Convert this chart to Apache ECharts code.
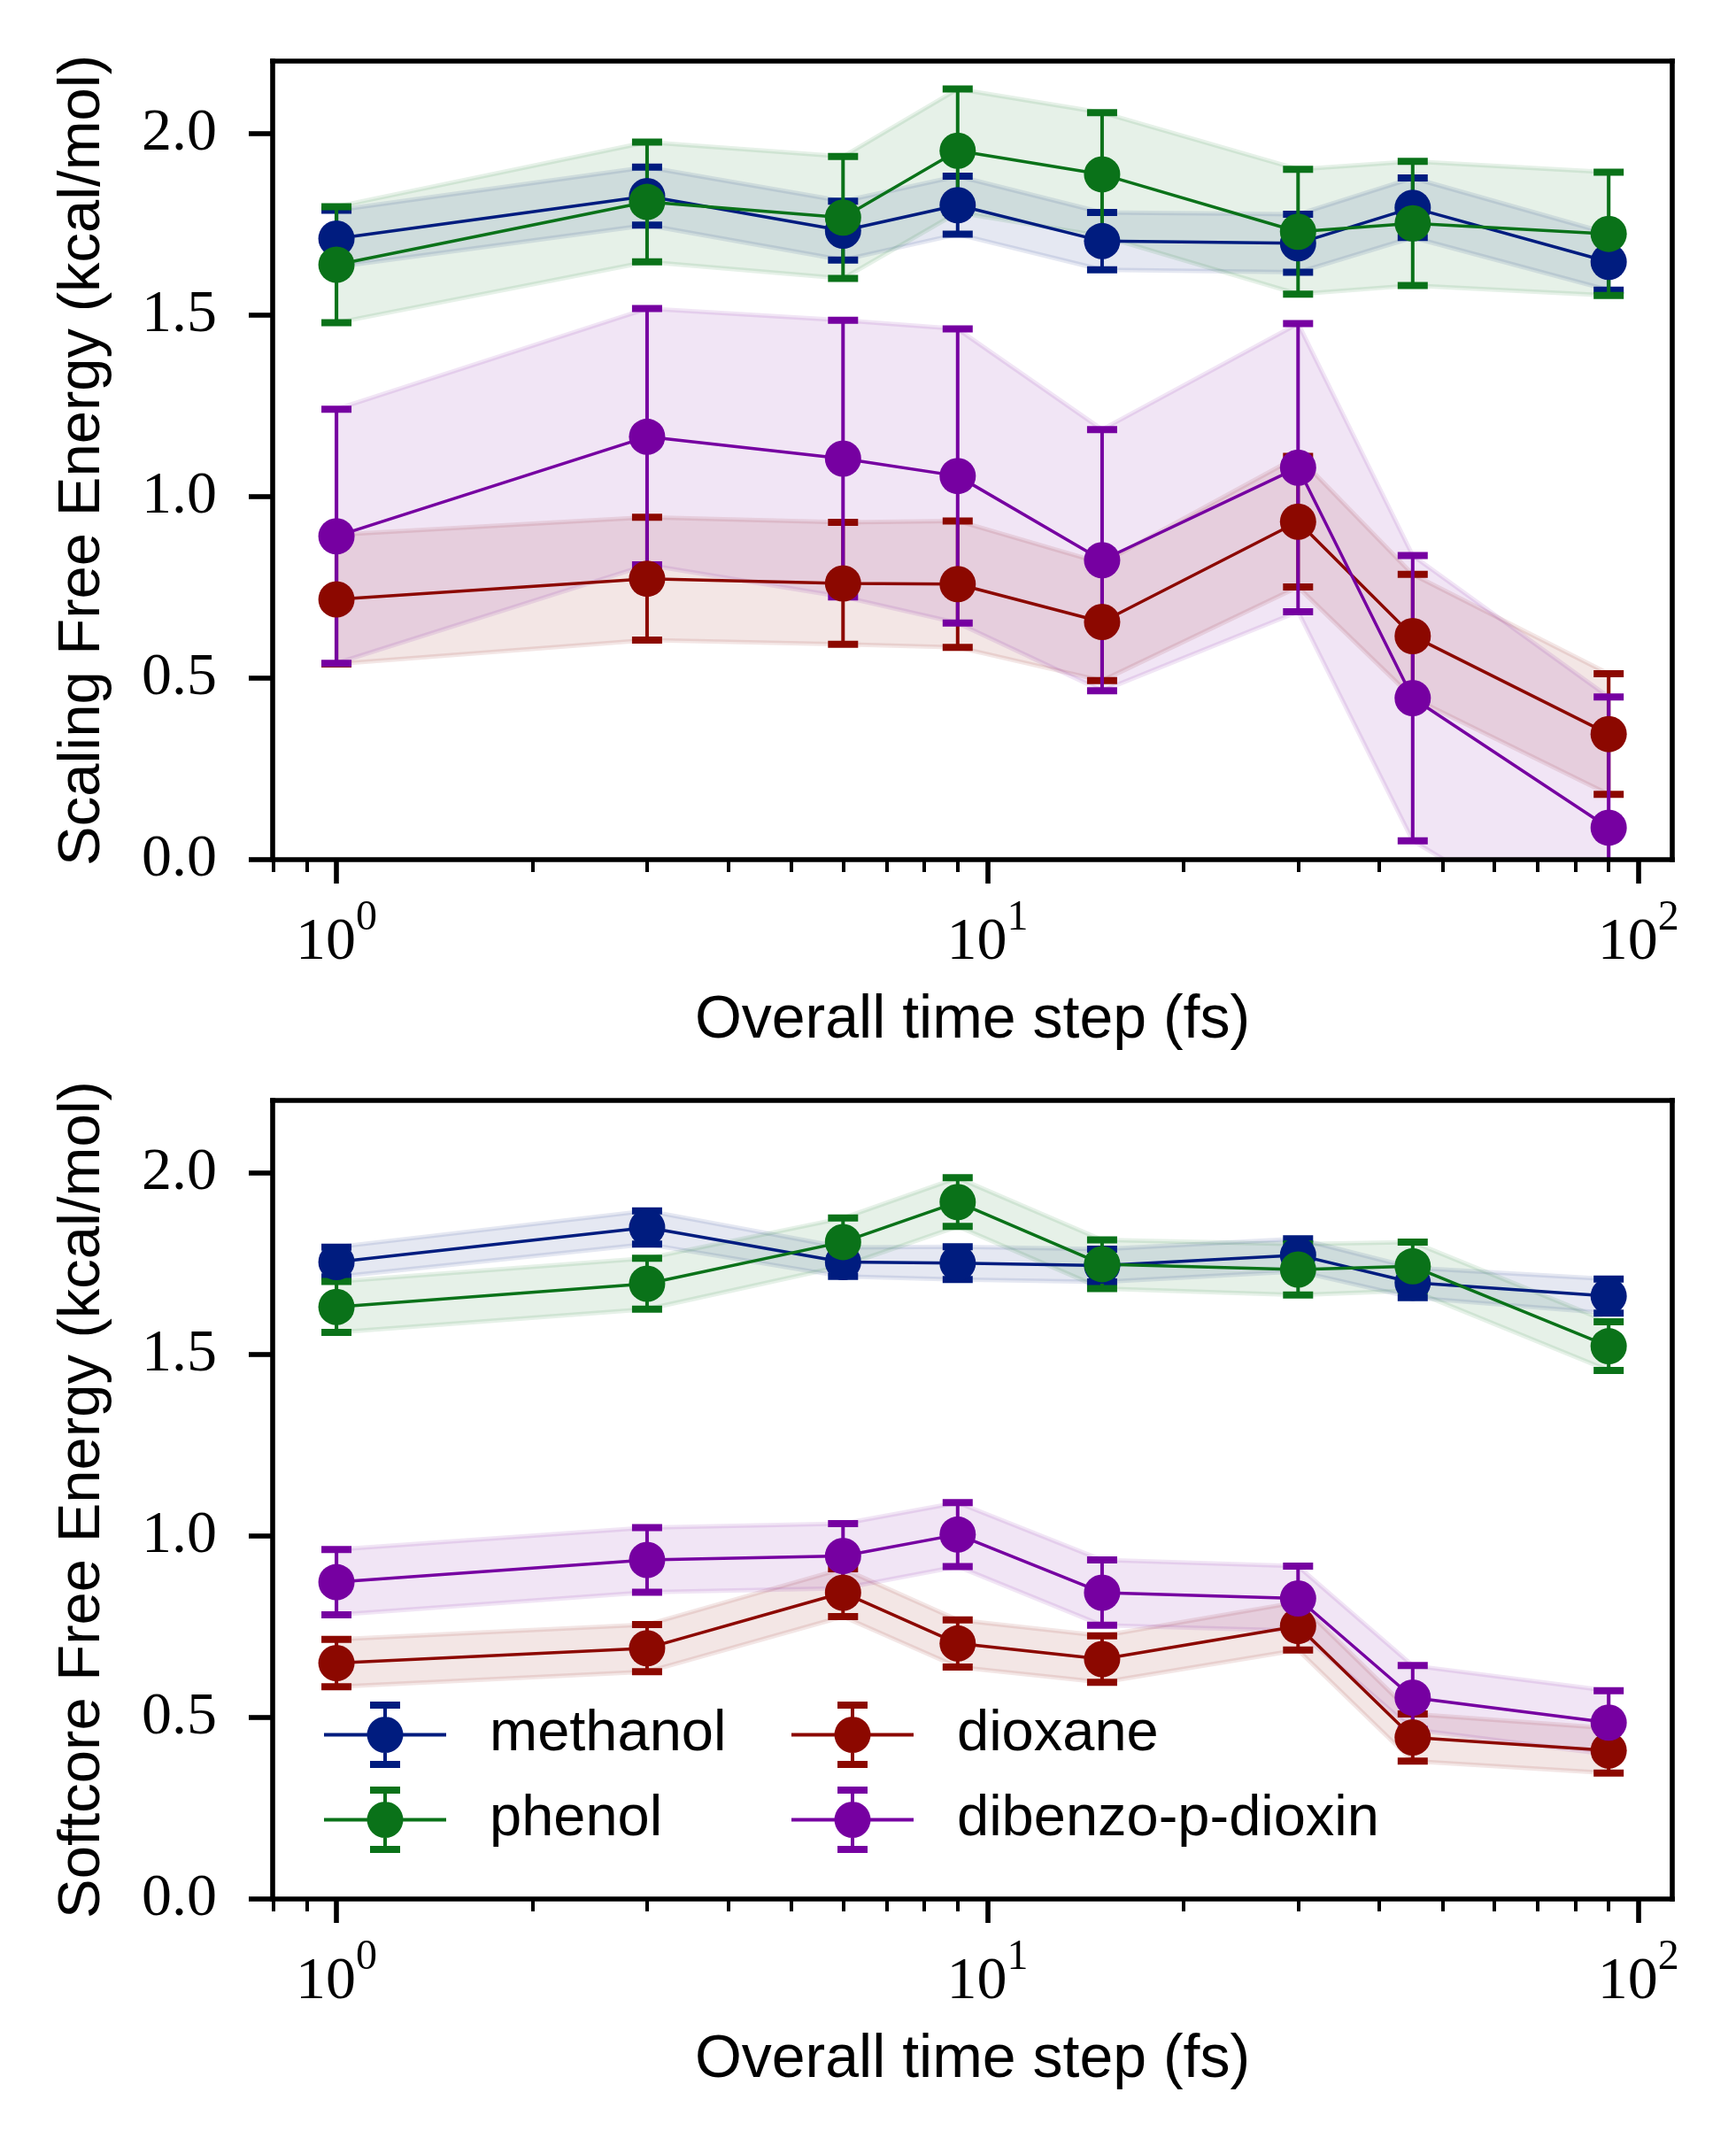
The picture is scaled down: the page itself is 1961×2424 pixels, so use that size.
<!DOCTYPE html>
<html>
<head>
<meta charset="utf-8">
<script src="https://cdn.jsdelivr.net/npm/echarts@6/dist/echarts.min.js"></script>
<style>
html, body { margin: 0; padding: 0; background: #fff; }
#chart { width: 1961px; height: 2424px; }
</style>
</head>
<body>
<div id="chart"></div>
<script>
// time steps (fs) shared by every series
var steps = [1, 3, 6, 9, 15, 30, 45, 90];
var names = ['methanol', 'phenol', 'dioxane', 'dibenzo-p-dioxin'];
var colors = ['#001c7f', '#0a7219', '#8c0800', '#7600a1'];

// top panel: scaling free energy (kcal/mol) and its error
var scalingMethanol = [1.711, 1.828, 1.733, 1.803, 1.704, 1.698, 1.796, 1.647];
var scalingMethanolErr = [0.078, 0.080, 0.081, 0.080, 0.079, 0.080, 0.082, 0.078];
var scalingPhenol = [1.639, 1.812, 1.769, 1.953, 1.888, 1.730, 1.753, 1.724];
var scalingPhenolErr = [0.160, 0.165, 0.168, 0.170, 0.170, 0.172, 0.171, 0.170];
var scalingDioxane = [0.717, 0.774, 0.761, 0.759, 0.655, 0.931, 0.616, 0.346];
var scalingDioxaneErr = [0.178, 0.169, 0.168, 0.174, 0.162, 0.180, 0.170, 0.166];
var scalingDibenzo = [0.891, 1.165, 1.105, 1.057, 0.825, 1.080, 0.445, 0.088];
var scalingDibenzoErr = [0.350, 0.353, 0.381, 0.405, 0.360, 0.397, 0.393, 0.360];

// bottom panel: softcore free energy (kcal/mol) and its error
var softMethanol = [1.755, 1.850, 1.755, 1.752, 1.745, 1.774, 1.698, 1.661];
var softMethanolErr = [0.041, 0.046, 0.040, 0.045, 0.045, 0.045, 0.041, 0.047];
var softPhenol = [1.631, 1.695, 1.810, 1.920, 1.749, 1.734, 1.743, 1.523];
var softPhenolErr = [0.070, 0.070, 0.066, 0.067, 0.067, 0.070, 0.067, 0.067];
var softDioxane = [0.650, 0.691, 0.844, 0.704, 0.661, 0.752, 0.445, 0.409];
var softDioxaneErr = [0.065, 0.065, 0.066, 0.065, 0.064, 0.066, 0.065, 0.062];
var softDibenzo = [0.873, 0.934, 0.945, 1.004, 0.844, 0.828, 0.555, 0.486];
var softDibenzoErr = [0.090, 0.089, 0.089, 0.088, 0.090, 0.089, 0.088, 0.088];

// axis ticks
var xMin = 0.798, xMax = 112.7;
var majorTicks = [1, 10, 100];
var minorTicks = [0.8, 0.9, 2, 3, 4, 5, 6, 7, 8, 9, 20, 30, 40, 50, 60, 70, 80, 90];
var yTicks = [0, 0.5, 1.0, 1.5, 2.0];
var yLabels = ['Scaling Free Energy (kcal/mol)', 'Softcore Free Energy (kcal/mol)'];

var serif = 'Liberation Serif';
var sans = 'Liberation Sans';
var spine = { color: '#000', width: 5.6, cap: 'square' };

function lx(v) { return Math.log10(v); }

var chart = echarts.init(document.getElementById('chart'));

var xAxes = [], yAxes = [], series = [];

[0, 1].forEach(function (g) {
    // main x axis: major ticks + labels
    xAxes.push({
        type: 'value', gridIndex: g, min: lx(xMin), max: lx(xMax), position: 'bottom', z: 10,
        axisLine: { show: true, onZero: false, lineStyle: spine },
        axisTick: { show: true, length: 27, lineStyle: { color: '#000', width: 5.6 }, customValues: majorTicks.map(lx) },
        axisLabel: {
            show: true, margin: 42, customValues: majorTicks.map(lx),
            formatter: function (v) { return '{b|10}{s|' + Math.round(v) + '}'; },
            rich: {
                b: { fontFamily: serif, fontSize: 68, color: '#000', lineHeight: 86, verticalAlign: 'bottom' },
                s: { fontFamily: serif, fontSize: 48, color: '#000', lineHeight: 48, verticalAlign: 'top' }
            }
        },
        splitLine: { show: false },
        name: 'Overall time step (fs)', nameLocation: 'middle', nameGap: 148,
        nameTextStyle: { fontFamily: sans, fontSize: 68, color: '#000' }
    });
    // minor ticks
    xAxes.push({
        type: 'value', gridIndex: g, min: lx(xMin), max: lx(xMax), position: 'bottom', z: 10,
        axisLine: { show: false },
        axisTick: { show: true, length: 14, lineStyle: { color: '#000', width: 4 }, customValues: minorTicks.map(lx) },
        axisLabel: { show: false },
        splitLine: { show: false }
    });
    // top spine
    xAxes.push({
        type: 'value', gridIndex: g, min: lx(xMin), max: lx(xMax), position: 'top', z: 10,
        axisLine: { show: true, onZero: false, lineStyle: spine },
        axisTick: { show: false }, axisLabel: { show: false }, splitLine: { show: false }
    });
    yAxes.push({
        type: 'value', gridIndex: g, min: 0, max: 2.2, position: 'left', z: 10,
        axisLine: { show: true, onZero: false, lineStyle: spine },
        axisTick: { show: true, length: 27, lineStyle: { color: '#000', width: 5.6 }, customValues: yTicks },
        axisLabel: {
            show: true, margin: 63, customValues: yTicks,
            formatter: function (v) { return v.toFixed(1); },
            fontFamily: serif, fontSize: 68, color: '#000'
        },
        splitLine: { show: false },
        name: yLabels[g], nameLocation: 'middle', nameGap: 181,
        nameTextStyle: { fontFamily: sans, fontSize: 67, color: '#000' }
    });
    yAxes.push({
        type: 'value', gridIndex: g, min: 0, max: 2.2, position: 'right', z: 10,
        axisLine: { show: true, onZero: false, lineStyle: spine },
        axisTick: { show: false }, axisLabel: { show: false }, splitLine: { show: false }
    });
});

function addPanel(g, means, errs) {
    means.forEach(function (m, k) {
        var e = errs[k], c = colors[k];
        var xi = g * 3, yi = g * 2;
        var pts = steps.map(function (s, i) { return [lx(s), m[i]]; });
        var bars = steps.map(function (s, i) { return [lx(s), m[i] - e[i], m[i] + e[i]]; });

        // shaded mean +/- error band, one polygon through all points
        series.push({
            type: 'custom', xAxisIndex: xi, yAxisIndex: yi, data: bars, clip: true, silent: true, z: 1,
            encode: { x: 0, y: [1, 2] },
            renderItem: function (params, api) {
                if (params.dataIndex !== 0) return null;
                var upper = bars.map(function (b) { return api.coord([b[0], b[2]]); });
                var lower = bars.map(function (b) { return api.coord([b[0], b[1]]); }).reverse();
                return {
                    type: 'polygon',
                    shape: { points: upper.concat(lower) },
                    style: { fill: c, stroke: c, lineWidth: 5, opacity: 0.1, lineJoin: 'round' }
                };
            }
        });
        // error bars with caps
        series.push({
            type: 'custom', xAxisIndex: xi, yAxisIndex: yi, data: bars, clip: true, silent: true, z: 2,
            encode: { x: 0, y: [1, 2] },
            renderItem: function (params, api) {
                var x = api.value(0);
                var lo = api.coord([x, api.value(1)]);
                var hi = api.coord([x, api.value(2)]);
                var cap = 17;
                return {
                    type: 'group',
                    children: [
                        { type: 'line', shape: { x1: lo[0], y1: lo[1], x2: hi[0], y2: hi[1] }, style: { stroke: c, lineWidth: 4 } },
                        { type: 'line', shape: { x1: lo[0] - cap, y1: lo[1], x2: lo[0] + cap, y2: lo[1] }, style: { stroke: c, lineWidth: 8 } },
                        { type: 'line', shape: { x1: hi[0] - cap, y1: hi[1], x2: hi[0] + cap, y2: hi[1] }, style: { stroke: c, lineWidth: 8 } }
                    ]
                };
            }
        });
        series.push({
            type: 'line', name: names[k], xAxisIndex: xi, yAxisIndex: yi, data: pts,
            symbol: 'circle', symbolSize: 41, showSymbol: true,
            lineStyle: { color: c, width: 3.5 }, itemStyle: { color: c, borderWidth: 0 }, z: 2
        });
    });
}

addPanel(0, [scalingMethanol, scalingPhenol, scalingDioxane, scalingDibenzo],
    [scalingMethanolErr, scalingPhenolErr, scalingDioxaneErr, scalingDibenzoErr]);
addPanel(1, [softMethanol, softPhenol, softDioxane, softDibenzo],
    [softMethanolErr, softPhenolErr, softDioxaneErr, softDibenzoErr]);

// legend icon: line + marker + capped error bar
var legendIcon = 'path://M0,35.5h138v4h-138z M67,4h4v67h-4z M52,0h34v8h-34z M52,67h34v8h-34z ' +
    'M48.5,37.5a20.5,20.5 0 1,1 41,0a20.5,20.5 0 1,1 -41,0z';

function legendBlock(left, items) {
    return {
        orient: 'vertical', left: left, top: 1922, itemWidth: 138, itemHeight: 75, itemGap: 21,
        selectedMode: false, padding: 0,
        textStyle: { fontFamily: sans, fontSize: 65, color: '#000', padding: [0, 0, 0, 44] },
        data: items.map(function (k) {
            return { name: names[k], icon: legendIcon, itemStyle: { color: colors[k], borderWidth: 0 } };
        })
    };
}

chart.setOption({
    animation: false,
    backgroundColor: '#fff',
    grid: [
        { left: 308, top: 69, width: 1581, height: 902, outerBoundsMode: 'none' },
        { left: 308, top: 1243, width: 1581, height: 902, outerBoundsMode: 'none' }
    ],
    xAxis: xAxes,
    yAxis: yAxes,
    legend: [legendBlock(366, [0, 1]), legendBlock(894, [2, 3])],
    series: series
});
</script>
</body>
</html>
